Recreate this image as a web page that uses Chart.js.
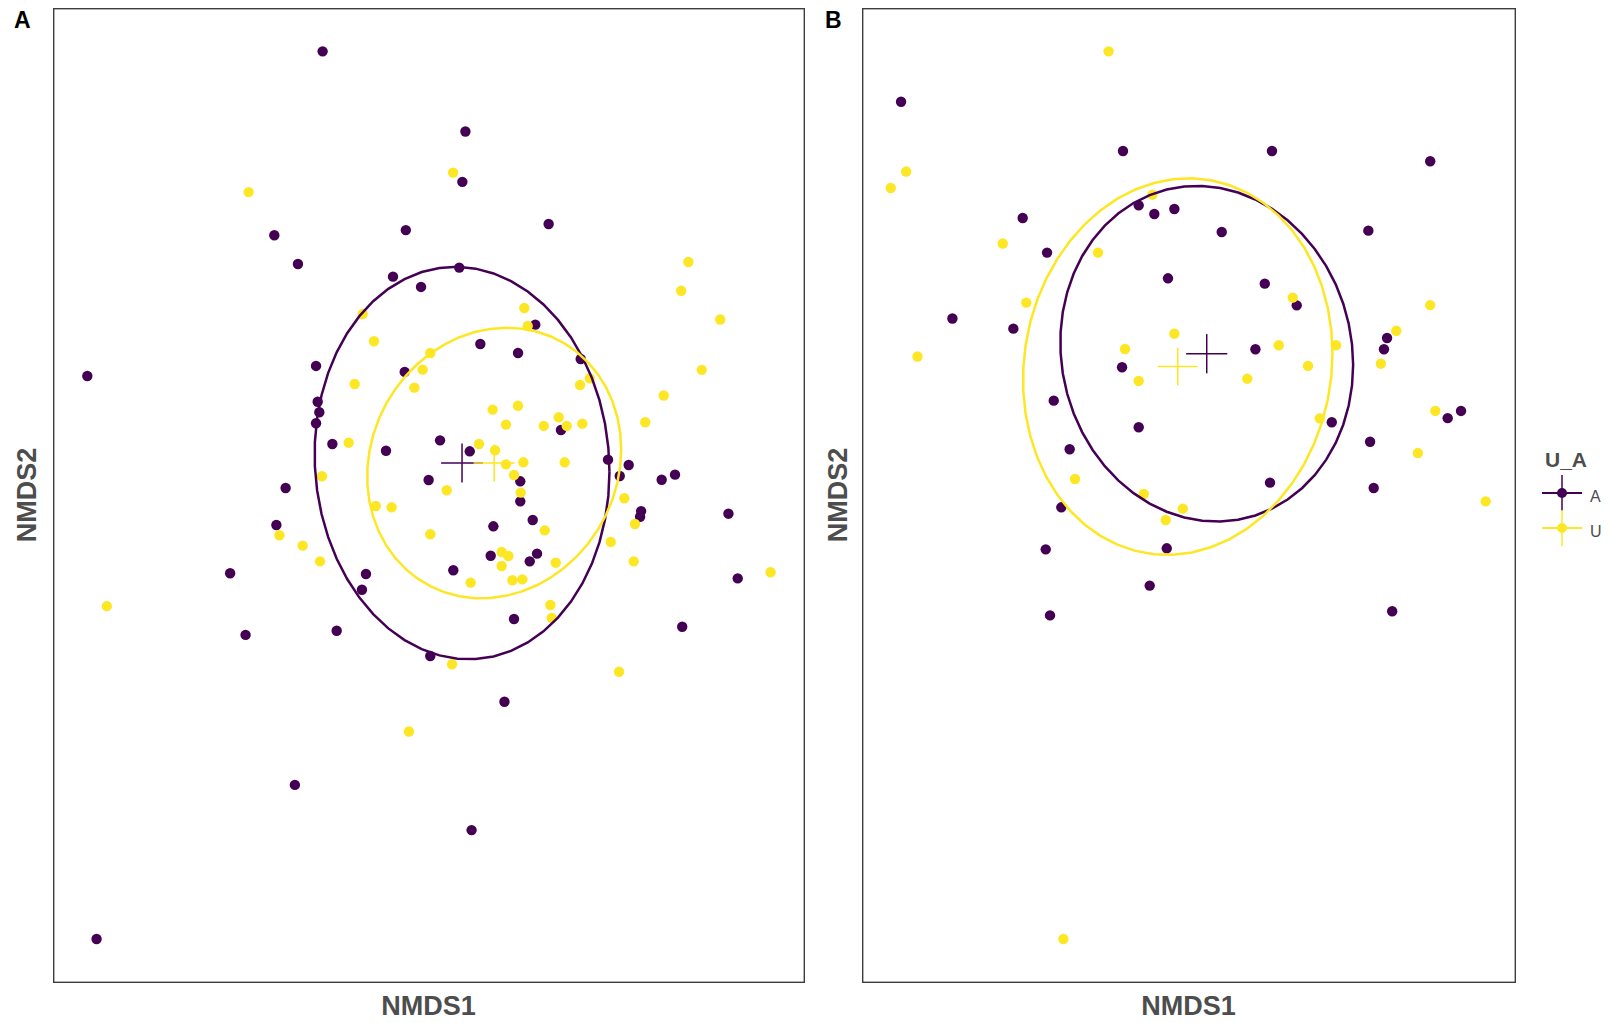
<!DOCTYPE html>
<html>
<head>
<meta charset="utf-8">
<script src="https://cdn.jsdelivr.net/npm/chart.js@4/dist/chart.umd.min.js"></script>
<style>
  html, body { margin: 0; padding: 0; background: #ffffff; }
  body { width: 1611px; height: 1023px; position: relative; overflow: hidden;
         font-family: "Liberation Sans", Arial, Helvetica, sans-serif; }
  canvas { position: absolute; }
  .txt { position: absolute; white-space: nowrap; line-height: 1; }
  .tag { font-weight: bold; font-size: 23px; color: #000000; }
  .axis { font-weight: bold; font-size: 27px; color: #4d4d4d; }
  .axis-x { transform: translateX(-50%); }
  .axis-y { transform: translate(-50%, -50%) rotate(-90deg); }
  .leg-title { font-weight: bold; font-size: 21px; color: #4d4d4d; }
  .leg-text { font-size: 16px; color: #4d4d4d; }
  .key { position: absolute; }
</style>
</head>
<body>
<canvas id="plotA" width="752" height="975" style="left:53px;top:8px;width:752px;height:975px"></canvas>
<canvas id="plotB" width="654" height="975" style="left:862px;top:8px;width:654px;height:975px"></canvas>

<div class="txt tag" style="left:14px;top:9px">A</div>
<div class="txt tag" style="left:825px;top:9px">B</div>

<div class="txt axis axis-x" style="left:428.5px;top:992.8px">NMDS1</div>
<div class="txt axis axis-x" style="left:1188.5px;top:992.8px">NMDS1</div>
<div class="txt axis axis-y" style="left:27px;top:495px">NMDS2</div>
<div class="txt axis axis-y" style="left:838px;top:495px">NMDS2</div>

<div id="legend"></div>

<script>
// ---- Panel A: NMDS site scores per group ----
const panelA_A_nmds1 = [-1.03, 0.36, 0.33, 1.17, -0.22, -1.50, -1.27, -0.345, -0.072, 0.30, 1.04, -3.32, -1.094, 0.505, 0.872, -0.231, 1.482, -1.078, -1.062, -1.094, -0.935, -0.413, 0.113, 0.402, 1.29, 1.748, 1.949, 1.862, 2.40, 2.27, 0.894, 0.002, -1.39, 0.894, 2.07, 2.06, 2.92, -1.48, 0.632, 1.015, 0.606, 0.986, 1.057, 0.242, -1.93, -0.608, -0.647, 3.01, -1.78, -0.893, 0.833, 2.47, 0.018, 0.74, -1.30, 0.42, -3.23];
const panelA_A_nmds2 = [4.32, 3.54, 3.05, 2.64, 2.58, 2.53, 2.25, 2.127, 2.027, 2.215, 1.66, 1.16, 1.258, 1.472, 1.384, 1.20, 1.326, 0.91, 0.807, 0.70, 0.498, 0.433, 0.534, 0.427, 0.635, 0.346, 0.294, 0.187, 0.20, 0.15, 0.135, 0.148, 0.07, -0.06, -0.155, -0.21, -0.18, -0.29, -0.303, -0.241, -0.589, -0.644, -0.569, -0.731, -0.76, -0.767, -0.92, -0.81, -1.36, -1.319, -1.205, -1.28, -1.565, -2.01, -2.82, -3.26, -4.32];
const panelA_U_nmds1 = [-1.75, 0.24, 2.53, 2.46, 0.933, -0.64, 0.966, 2.84, -0.53, 0.018, -0.056, 2.66, 1.57, 1.475, -0.718, -0.137, 2.29, 0.872, 0.625, 0.755, 1.122, 1.268, 1.346, 1.498, 2.11, -0.776, 0.492, 0.648, 1.326, 0.924, 0.755, 0.833, -1.036, 0.178, 0.898, 1.907, -0.513, -0.358, 2.01, 1.132, 0.018, -1.45, -1.224, 1.774, 0.713, 0.778, 0.713, -1.055, 1.239, 1.998, 3.33, 0.411, 0.817, 0.914, 1.187, 1.20, -3.13, 0.23, 1.855, -0.19];
const panelA_U_nmds2 = [2.95, 3.14, 2.27, 1.99, 1.822, 1.764, 1.647, 1.71, 1.498, 1.384, 1.222, 1.22, 1.138, 1.073, 1.082, 1.047, 0.97, 0.871, 0.833, 0.687, 0.674, 0.758, 0.674, 0.696, 0.71, 0.511, 0.498, 0.437, 0.32, 0.32, 0.30, 0.197, 0.184, 0.048, 0.025, -0.03, -0.105, -0.118, -0.28, -0.342, -0.38, -0.39, -0.491, -0.455, -0.553, -0.592, -0.689, -0.644, -0.657, -0.644, -0.75, -0.851, -0.828, -0.819, -1.069, -1.195, -1.08, -1.646, -1.718, -2.30];

// ---- Panel B: NMDS site scores per group ----
const panelB_A_nmds1 = [-2.80, -0.64, 0.81, 2.35, -1.616, -0.487, -0.335, -0.14, 0.321, 1.748, -1.379, -0.202, 0.74, 1.051, -2.30, -1.707, 1.93, 1.90, 0.649, -0.649, -1.314, 1.392, 2.65, 2.52, -0.487, 1.765, -1.159, 0.791, 1.80, -1.24, -0.214, -1.392, -0.38, 1.98, -1.35];
const panelB_A_nmds2 = [3.83, 3.35, 3.35, 3.25, 2.698, 2.821, 2.737, 2.786, 2.562, 2.575, 2.361, 2.111, 2.059, 1.848, 1.72, 1.621, 1.53, 1.42, 1.42, 1.245, 0.92, 0.71, 0.82, 0.75, 0.661, 0.52, 0.447, 0.122, 0.07, -0.118, -0.517, -0.527, -0.88, -1.13, -1.17];
const panelB_U_nmds1 = [-0.78, -2.75, -2.90, -0.354, -1.81, -0.883, 1.012, -1.581, 2.35, 2.02, -0.14, -0.62, 0.876, 1.434, -2.64, 1.87, 1.161, -0.487, 0.57, 1.275, 2.40, 2.23, -1.107, -0.438, 2.89, -0.058, -0.224, -1.22];
const panelB_U_nmds2 = [4.32, 3.15, 2.99, 2.925, 2.45, 2.361, 1.923, 1.874, 1.85, 1.60, 1.572, 1.423, 1.459, 1.459, 1.35, 1.28, 1.258, 1.112, 1.134, 0.748, 0.82, 0.41, 0.158, 0.012, -0.06, -0.131, -0.241, -4.32];

// ---- Group centroids [NMDS1, NMDS2] and their error bar half-lengths [NMDS1, NMDS2] ----
const panelA_A_centroid = [0.327, 0.313];
const panelA_A_error    = [0.204, 0.190];
const panelA_U_centroid = [0.640, 0.313];
const panelA_U_error    = [0.200, 0.180];
const panelB_A_centroid = [0.175, 1.377];
const panelB_A_error    = [0.200, 0.191];
const panelB_U_centroid = [-0.107, 1.252];
const panelB_U_error    = [0.195, 0.183];

// ---- Confidence ellipses: [half-width NMDS1, half-height NMDS2, correlation] ----
const panelA_A_ellipse = [1.435, 1.910, -0.045];
const panelA_U_ellipse = [1.236, 1.317, 0.100];
const panelB_A_ellipse = [1.425, 1.634, -0.067];
const panelB_U_ellipse = [1.506, 1.833, 0.070];

// ---- Axis ranges ----
const panelA_range1 = [-3.654, 3.665];
const panelB_range1 = [-3.180, 3.185];
const nmds2_range   = [-4.748, 4.742];

const groupLevels = ['A', 'U'];
const groupColors = { A: '#440154', U: '#FDE725' };

function toPoints(xs, ys) {
  return xs.map((x, i) => ({ x: x, y: ys[i] }));
}

// Outline of an ellipse with given centre, extents and correlation (51 segments)
function ellipseOutline(centre, spec) {
  const [cx, cy] = centre;
  const [sx, sy, r] = spec;
  const k = Math.sqrt(1 - r * r);
  const pts = [];
  const n = 51;
  for (let i = 0; i <= n; i++) {
    const t = 2 * Math.PI * i / n;
    pts.push({ x: cx + sx * Math.cos(t), y: cy + sy * (r * Math.cos(t) + k * Math.sin(t)) });
  }
  return pts;
}

function groupDatasets(level, xs, ys, centre, err, ell) {
  const col = groupColors[level];
  const lineBase = { showLine: true, pointRadius: 0, borderColor: col, backgroundColor: col, fill: false, tension: 0 };
  return [
    { label: level, data: toPoints(xs, ys), pointRadius: 5.2, pointBorderWidth: 0,
      pointBackgroundColor: col, backgroundColor: col, borderColor: col,
      order: level === 'A' ? 6 : 5 },
    Object.assign({ label: level + ' ellipse', data: ellipseOutline(centre, ell), borderWidth: 2.5,
      order: level === 'A' ? 4 : 3 }, lineBase),
    Object.assign({ label: level + ' centroid h', borderWidth: 1.5, order: level === 'A' ? 2 : 1,
      data: [{ x: centre[0] - err[0], y: centre[1] }, { x: centre[0] + err[0], y: centre[1] }] }, lineBase),
    Object.assign({ label: level + ' centroid v', borderWidth: 1.5, order: level === 'A' ? 2 : 1,
      data: [{ x: centre[0], y: centre[1] - err[1] }, { x: centre[0], y: centre[1] + err[1] }] }, lineBase)
  ];
}

const panelFrame = {
  id: 'panelFrame',
  afterDraw(chart) {
    const { ctx, chartArea: a } = chart;
    ctx.save();
    ctx.strokeStyle = '#3d3d3d';
    ctx.lineWidth = 1.4;
    ctx.strokeRect(a.left + 0.7, a.top + 0.7, a.width - 1.4, a.height - 1.4);
    ctx.restore();
  }
};

function makePanel(canvasId, datasets, range1) {
  return new Chart(document.getElementById(canvasId), {
    type: 'scatter',
    data: { datasets: datasets },
    options: {
      responsive: false,
      animation: false,
      events: [],
      layout: { padding: 0, autoPadding: false },
      scales: {
        x: { type: 'linear', min: range1[0], max: range1[1], display: false },
        y: { type: 'linear', min: nmds2_range[0], max: nmds2_range[1], display: false }
      },
      plugins: { legend: { display: false }, tooltip: { enabled: false } }
    },
    plugins: [panelFrame]
  });
}

makePanel('plotA', [].concat(
  groupDatasets('A', panelA_A_nmds1, panelA_A_nmds2, panelA_A_centroid, panelA_A_error, panelA_A_ellipse),
  groupDatasets('U', panelA_U_nmds1, panelA_U_nmds2, panelA_U_centroid, panelA_U_error, panelA_U_ellipse)
), panelA_range1);

makePanel('plotB', [].concat(
  groupDatasets('A', panelB_A_nmds1, panelB_A_nmds2, panelB_A_centroid, panelB_A_error, panelB_A_ellipse),
  groupDatasets('U', panelB_U_nmds1, panelB_U_nmds2, panelB_U_centroid, panelB_U_error, panelB_U_ellipse)
), panelB_range1);

// ---- Shared legend: U_A ----
(function buildLegend() {
  const host = document.getElementById('legend');
  const title = document.createElement('div');
  title.className = 'txt leg-title';
  title.style.left = '1545px';
  title.style.top = '449px';
  title.textContent = 'U_A';
  host.appendChild(title);

  const keyX = 1562, firstY = 492.5, step = 35;
  groupLevels.forEach((lvl, i) => {
    const cy = firstY + i * step;
    const col = groupColors[lvl];
    const parts = [
      { l: keyX - 20, t: cy - 1, w: 40, h: 2, r: 0, o: 1 },
      { l: keyX - 0.75, t: cy - 18, w: 1.5, h: 36, r: 0, o: 0.75 },
      { l: keyX - 5, t: cy - 5, w: 10, h: 10, r: 5, o: 1 }
    ];
    parts.forEach(p => {
      const d = document.createElement('div');
      d.className = 'key';
      d.style.left = p.l + 'px';
      d.style.top = p.t + 'px';
      d.style.width = p.w + 'px';
      d.style.height = p.h + 'px';
      d.style.borderRadius = p.r + 'px';
      d.style.background = col;
      d.style.opacity = p.o;
      host.appendChild(d);
    });
    const lab = document.createElement('div');
    lab.className = 'txt leg-text';
    lab.style.left = '1590px';
    lab.style.top = (cy - 4) + 'px';
    lab.textContent = lvl;
    host.appendChild(lab);
  });
})();
</script>
</body>
</html>
